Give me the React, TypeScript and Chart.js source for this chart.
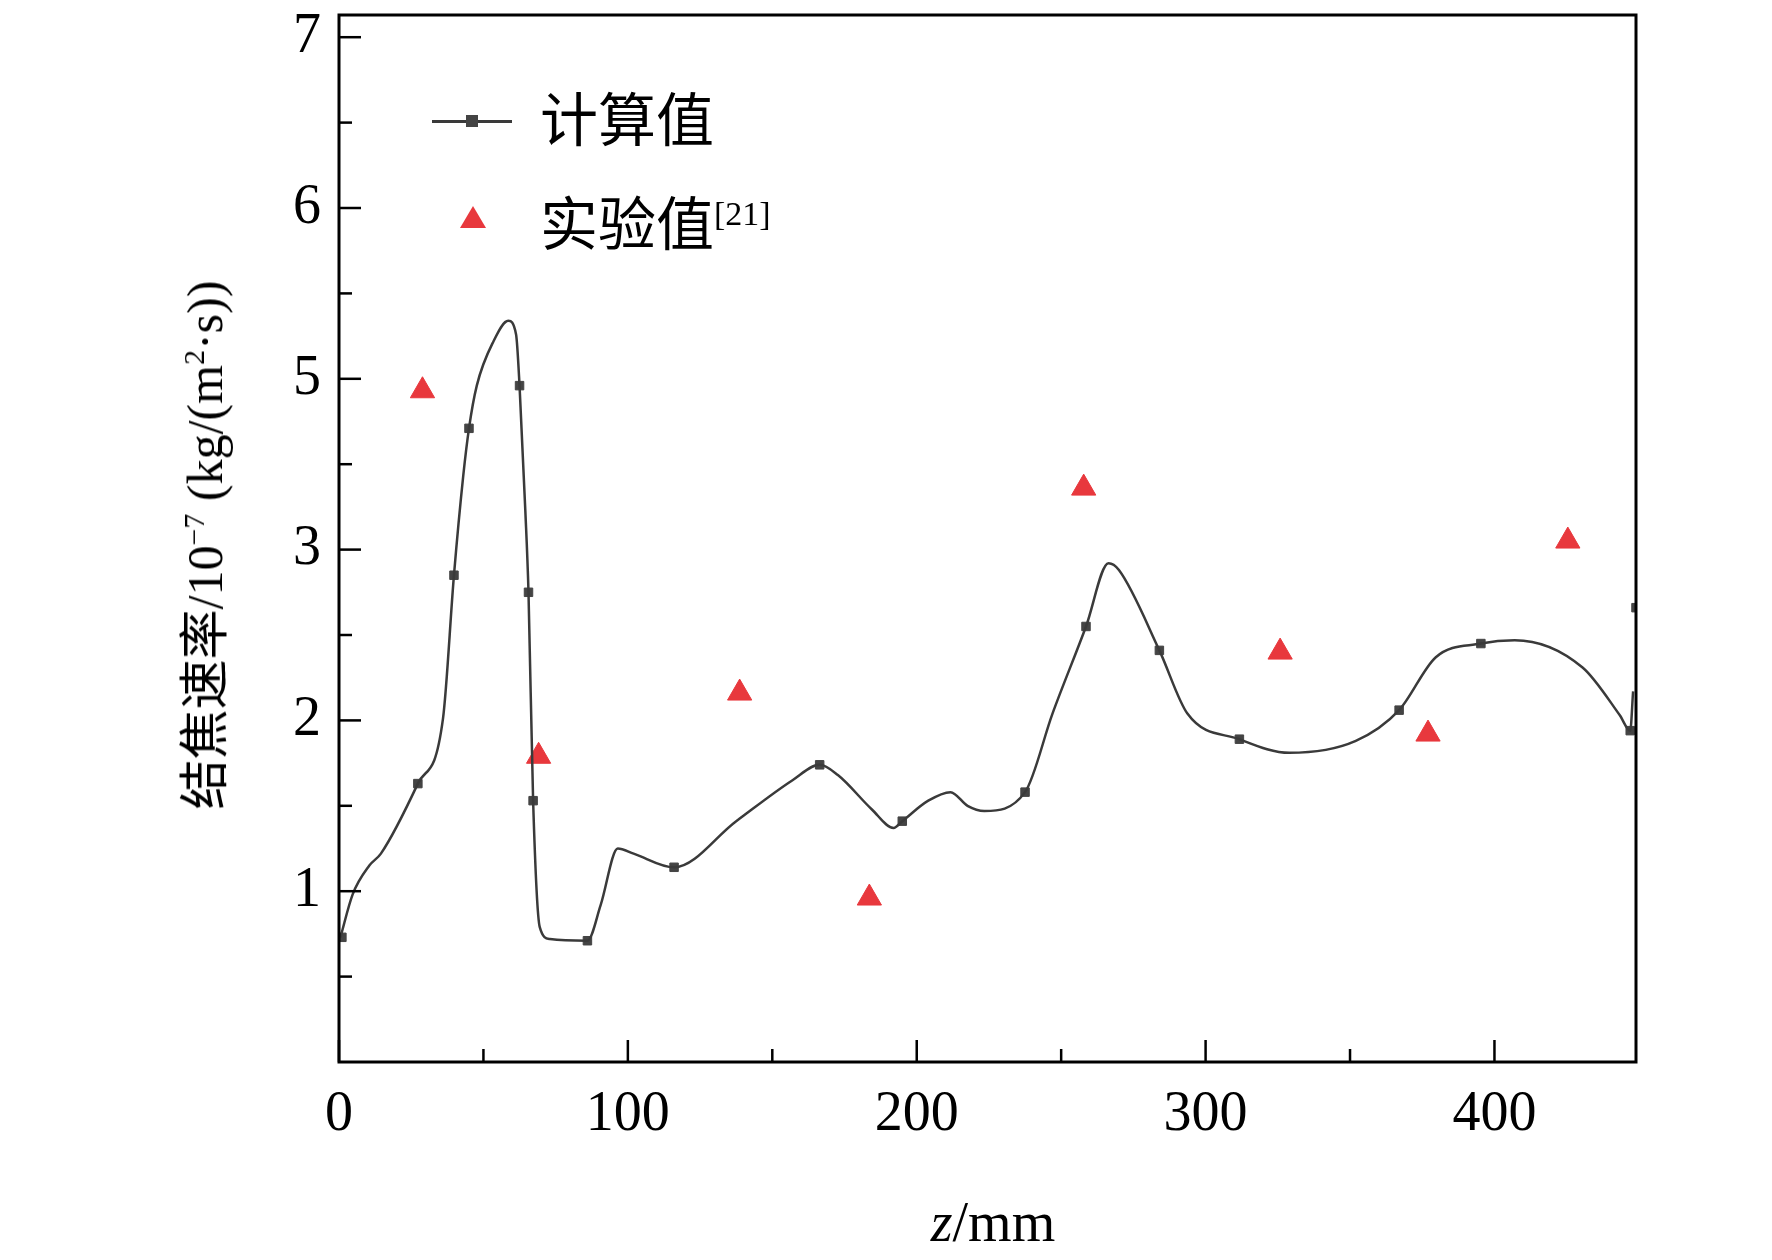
import React, { useEffect, useRef } from "react";
import { Chart, registerables } from "chart.js";
Chart.register(...registerables);

const curveX = [0.5, 4.7, 10.5, 14.5, 27.3, 36, 39.8, 43, 45, 47.7, 53.5, 58.6, 61.3, 62.5, 64.5, 65.6, 67.2, 69.5, 73, 86, 90.6, 96.5, 102, 116, 137.5, 157, 166.4, 172.7, 184.4, 192, 195, 204, 211.7, 217.6, 223.4, 237.5, 247, 258.6, 266.4, 270, 284, 293.7, 311.7, 329, 352, 367, 379.7, 395.3, 407, 430.5, 443.4, 447, 448];
const curveY = [0.73, 0.98, 1.15, 1.22, 1.63, 2.01, 2.85, 3.43, 3.71, 3.96, 4.22, 4.34, 4.26, 3.96, 3.23, 2.75, 1.53, 0.79, 0.72, 0.71, 0.92, 1.25, 1.22, 1.14, 1.41, 1.65, 1.74, 1.68, 1.48, 1.37, 1.41, 1.53, 1.58, 1.5, 1.47, 1.58, 2.04, 2.55, 2.92, 2.88, 2.41, 2.04, 1.89, 1.81, 1.88, 2.06, 2.37, 2.45, 2.47, 2.31, 2.03, 1.94, 2.17];
const markX = [1, 27.3, 39.8, 45, 62.5, 65.6, 67.2, 86, 116, 166.4, 195, 237.5, 258.6, 284, 311.7, 367, 395.3, 447, 449];
const markY = [0.73, 1.63, 2.85, 3.71, 3.96, 2.75, 1.53, 0.71, 1.14, 1.74, 1.41, 1.58, 2.55, 2.41, 1.89, 2.06, 2.45, 1.94, 2.66];
const expX = [28.9, 69.1, 138.7, 183.6, 257.8, 325.8, 377, 425.4];
const expY = [3.93, 1.79, 2.16, 0.96, 3.36, 2.4, 1.92, 3.05];
const yTickValues = [1, 2, 3, 4, 5, 6];
const yTickLabels = ["1", "2", "3", "5", "6", "7"];
const xTickLabels = ["0", "100", "200", "300", "400"];

const FONT = "'Liberation Serif', 'Times New Roman', serif";

const tickPlugin = {
  id: "inTicks",
  afterDraw(chart: any) {
    const { ctx, chartArea: a, scales } = chart;
    const xs = scales.x, ys = scales.y;
    ctx.save();
    ctx.strokeStyle = "#000";
    ctx.lineWidth = 3;
    ctx.strokeRect(a.left, a.top, a.right - a.left, a.bottom - a.top);
    ctx.lineWidth = 2.5;
    for (let v = 0; v <= 400; v += 50) {
      const p = xs.getPixelForValue(v);
      const len = v % 100 === 0 ? 22 : 13;
      ctx.beginPath(); ctx.moveTo(p, a.bottom); ctx.lineTo(p, a.bottom - len); ctx.stroke();
    }
    for (let v = 0.5; v <= 6.01; v += 0.5) {
      const p = ys.getPixelForValue(v);
      const len = Math.abs(v - Math.round(v)) < 0.01 ? 22 : 13;
      ctx.beginPath(); ctx.moveTo(a.left, p); ctx.lineTo(a.left + len, p); ctx.stroke();
    }
    ctx.fillStyle = "#000";
    ctx.font = `56px ${FONT}`;
    ctx.textAlign = "right";
    ctx.textBaseline = "middle";
    yTickValues.forEach((v, i) => {
      ctx.fillText(yTickLabels[i], a.left - 18, ys.getPixelForValue(v));
    });
    ctx.restore();
  },
};

export default function App() {
  const ref = useRef<HTMLCanvasElement>(null);
  useEffect(() => {
    const chart = new Chart(ref.current!, {
      type: "scatter",
      data: {
        datasets: [
          {
            data: curveX.map((x, i) => ({ x, y: curveY[i] })),
            showLine: true, borderColor: "#3a3a3a", borderWidth: 2.5,
            pointRadius: 0, tension: 0.4, cubicInterpolationMode: "monotone",
          } as any,
          {
            data: markX.map((x, i) => ({ x, y: markY[i] })),
            pointStyle: "rect", pointRadius: 6, backgroundColor: "#444", borderColor: "#444",
          },
          {
            data: expX.map((x, i) => ({ x, y: expY[i] })),
            pointStyle: "triangle", pointRadius: 14, backgroundColor: "#e8383d", borderColor: "#e8383d",
          },
        ],
      },
      options: {
        animation: false, responsive: false, maintainAspectRatio: false,
        layout: { padding: { top: 14, right: 136, left: 0, bottom: 0 } },
        plugins: { legend: { display: false }, tooltip: { enabled: false } },
        scales: {
          x: {
            type: "linear", min: 0, max: 449,
            grid: { display: false }, border: { display: false },
            afterBuildTicks: (s: any) => { s.ticks = [0, 100, 200, 300, 400].map((v) => ({ value: v })); },
            ticks: { color: "#000", font: { family: FONT, size: 56 }, padding: 12, callback: (v: any) => xTickLabels[Math.round(v / 100)] },
            afterFit: (s: any) => { s.height = 198; },
          },
          y: {
            type: "linear", min: 0, max: 6.13,
            grid: { display: false }, border: { display: false },
            ticks: { display: false },
            afterFit: (s: any) => { s.width = 339; },
          },
        },
      },
      plugins: [tickPlugin],
    });
    return () => chart.destroy();
  }, []);

  const cjk = "'Liberation Serif', 'Noto Sans CJK SC', serif";
  return (
    <div style={{ position: "absolute", left: 0, top: 0, width: 1772, height: 1260, background: "#fff" }}>
      <canvas ref={ref} width={1772} height={1260} style={{ position: "absolute", left: 0, top: 0 }} />
      <div style={{ position: "absolute", left: 200, top: 545, transform: "translate(-50%,-50%) rotate(-90deg)", whiteSpace: "nowrap", fontFamily: cjk, fontSize: 50, color: "#000" }}>
        结焦速率/10<sup style={{ fontSize: 30 }}>−7</sup> (kg/(m<sup style={{ fontSize: 30 }}>2</sup>·s))
      </div>
      <div style={{ position: "absolute", left: 993, top: 1222, transform: "translate(-50%,-50%)", whiteSpace: "nowrap", fontFamily: FONT, fontSize: 56, color: "#000" }}>
        <i style={{ fontStyle: "italic" }}>z</i>/mm
      </div>
      <div style={{ position: "absolute", left: 432, top: 120, width: 80, height: 3, background: "#3a3a3a" }} />
      <div style={{ position: "absolute", left: 466, top: 115, width: 12, height: 12, background: "#444" }} />
      <div style={{ position: "absolute", left: 540, top: 90, fontFamily: cjk, fontSize: 58, lineHeight: "64px", color: "#000" }}>计算值</div>
      <div style={{ position: "absolute", left: 460, top: 206, width: 0, height: 0, borderLeft: "13px solid transparent", borderRight: "13px solid transparent", borderBottom: "22px solid #e8383d" }} />
      <div style={{ position: "absolute", left: 540, top: 182, fontFamily: cjk, fontSize: 58, lineHeight: "64px", color: "#000", whiteSpace: "nowrap" }}>
        实验值<sup style={{ fontSize: 34 }}>[21]</sup>
      </div>
    </div>
  );
}
